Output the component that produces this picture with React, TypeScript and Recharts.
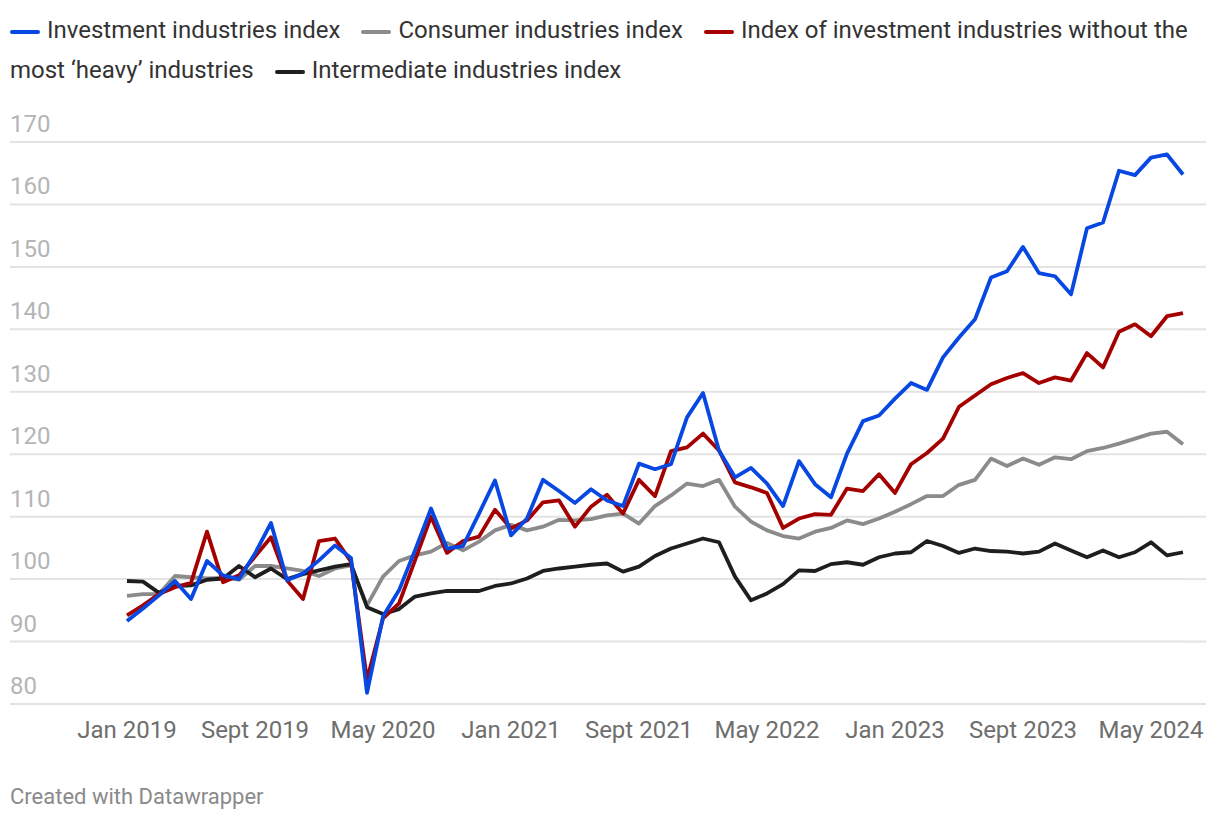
import { LineChart, Line, XAxis, YAxis, CartesianGrid } from 'recharts'

// Monthly, Jan 2019 – July 2024
const months = [
  'Jan 2019', 'Feb 2019', 'Mar 2019', 'Apr 2019', 'May 2019', 'June 2019', 'July 2019', 'Aug 2019', 'Sept 2019', 'Oct 2019', 'Nov 2019', 'Dec 2019',
  'Jan 2020', 'Feb 2020', 'Mar 2020', 'Apr 2020', 'May 2020', 'June 2020', 'July 2020', 'Aug 2020', 'Sept 2020', 'Oct 2020', 'Nov 2020', 'Dec 2020',
  'Jan 2021', 'Feb 2021', 'Mar 2021', 'Apr 2021', 'May 2021', 'June 2021', 'July 2021', 'Aug 2021', 'Sept 2021', 'Oct 2021', 'Nov 2021', 'Dec 2021',
  'Jan 2022', 'Feb 2022', 'Mar 2022', 'Apr 2022', 'May 2022', 'June 2022', 'July 2022', 'Aug 2022', 'Sept 2022', 'Oct 2022', 'Nov 2022', 'Dec 2022',
  'Jan 2023', 'Feb 2023', 'Mar 2023', 'Apr 2023', 'May 2023', 'June 2023', 'July 2023', 'Aug 2023', 'Sept 2023', 'Oct 2023', 'Nov 2023', 'Dec 2023',
  'Jan 2024', 'Feb 2024', 'Mar 2024', 'Apr 2024', 'May 2024', 'June 2024', 'July 2024',
]

const investment = [
  93.3, 95.3, 97.4, 99.7, 96.8, 102.9, 100.6, 100.0, 104.1, 109.0, 99.8, 100.9,
  103.0, 105.4, 103.4, 81.8, 94.0, 98.2, 104.6, 111.3, 104.9, 105.3, 110.5, 115.8,
  107.0, 109.7, 115.9, 114.1, 112.2, 114.4, 112.6, 111.7, 118.5, 117.6, 118.4, 125.9,
  129.8, 120.6, 116.3, 117.8, 115.3, 111.7, 118.9, 115.2, 113.1, 120.1, 125.3, 126.2,
  128.9, 131.4, 130.3, 135.5, 138.7, 141.6, 148.3, 149.3, 153.2, 149.0, 148.5, 145.6,
  156.2, 157.1, 165.4, 164.7, 167.5, 168.0, 164.8,
]

const consumer = [
  97.3, 97.6, 97.6, 100.5, 100.3, 100.1, 100.2, 99.9, 102.1, 102.1, 101.7, 101.3,
  100.5, 101.7, 102.2, 95.8, 100.4, 102.9, 103.8, 104.4, 105.8, 104.6, 106.0, 107.8,
  108.7, 107.8, 108.4, 109.5, 109.4, 109.6, 110.2, 110.5, 108.9, 111.7, 113.4, 115.3,
  114.9, 115.9, 111.6, 109.2, 107.8, 106.9, 106.5, 107.6, 108.2, 109.4, 108.8, 109.7,
  110.8, 112.0, 113.3, 113.3, 115.1, 115.9, 119.3, 118.1, 119.3, 118.3, 119.5, 119.2,
  120.5, 121.0, 121.7, 122.5, 123.3, 123.6, 121.6,
]

const investmentNoHeavy = [
  94.2, 95.8, 97.6, 98.7, 99.4, 107.6, 99.5, 100.6, 103.6, 106.7, 99.8, 96.8,
  106.1, 106.5, 102.8, 83.9, 93.7, 96.1, 103.0, 110.0, 104.2, 106.1, 106.8, 111.1,
  108.1, 109.4, 112.3, 112.6, 108.4, 111.6, 113.5, 110.5, 115.9, 113.3, 120.5, 121.1,
  123.3, 120.6, 115.5, 114.7, 113.8, 108.2, 109.7, 110.4, 110.3, 114.5, 114.1, 116.8,
  113.8, 118.4, 120.2, 122.5, 127.6, 129.4, 131.2, 132.2, 133.0, 131.4, 132.3, 131.8,
  136.2, 133.9, 139.6, 140.8, 138.9, 142.1, 142.6,
]

const intermediate = [
  99.7, 99.6, 97.8, 98.9, 99.0, 99.9, 100.1, 102.1, 100.3, 101.7, 100.0, 100.8,
  101.4, 102.0, 102.4, 95.5, 94.4, 95.2, 97.2, 97.7, 98.1, 98.1, 98.1, 98.9,
  99.3, 100.1, 101.3, 101.7, 102.0, 102.3, 102.5, 101.2, 102.0, 103.7, 104.9, 105.7,
  106.5, 105.9, 100.4, 96.6, 97.7, 99.2, 101.4, 101.3, 102.4, 102.7, 102.3, 103.5,
  104.1, 104.3, 106.1, 105.3, 104.2, 104.9, 104.5, 104.4, 104.1, 104.4, 105.7, 104.6,
  103.5, 104.6, 103.5, 104.3, 105.9, 103.8, 104.3,
]

const yTicks = [80, 90, 100, 110, 120, 130, 140, 150, 160, 170]

// legend order as in the original; drawOrder controls which line sits on top
const series = [
  { key: 'investment', name: 'Investment industries index', color: '#0747e2' },
  { key: 'consumer', name: 'Consumer industries index', color: '#8b8b8b' },
  { key: 'noHeavy', name: 'Index of investment industries without the most \u2018heavy\u2019 industries', color: '#a50000' },
  { key: 'intermediate', name: 'Intermediate industries index', color: '#1e1e1e' },
]
const drawOrder = ['consumer', 'intermediate', 'noHeavy', 'investment']

const data = months.map((month, i) => ({
  month,
  investment: investment[i],
  consumer: consumer[i],
  noHeavy: investmentNoHeavy[i],
  intermediate: intermediate[i],
}))

const CHART_W = 1220
const CHART_H = 680
const PLOT_LEFT = 127
const PLOT_RIGHT = 1183
const FONT = 'Roboto, "Noto Sans", sans-serif'

/**
 * Y tick: label sits above its gridline, gridline stretched to the page edges
 */
const YTick = ({ y, payload }: any) => (
  <g>
    <line x1={10} x2={PLOT_LEFT} y1={y} y2={y} stroke="#e3e3e3" strokeWidth={2} />
    <line x1={PLOT_RIGHT} x2={1206} y1={y} y2={y} stroke="#e3e3e3" strokeWidth={2} />
    <text x={10} y={y - 10} fill="#b5b5b5" fontSize={24} fontFamily={FONT}>
      {payload.value}
    </text>
  </g>
)

const XTick = ({ x, y, payload }: any) => (
  <text x={x} y={y + 26} fill="#6e6e6e" fontSize={24} fontFamily={FONT} textAnchor="middle">
    {payload.value}
  </text>
)

const LegendRow = () => (
  <div
    style={{
      position: 'absolute',
      left: 10,
      top: 10,
      width: 1196,
      fontSize: 24,
      lineHeight: '40px',
      color: '#333',
      fontFamily: FONT,
    }}
  >
    {series.map((s) => (
      <span key={s.key} style={{ marginRight: 21 }}>
        <span
          style={{
            display: 'inline-block',
            width: 30,
            height: 4,
            borderRadius: 2,
            background: s.color,
            verticalAlign: 'middle',
            marginRight: 7,
          }}
        />
        {s.name}
      </span>
    ))}
  </div>
)

export default function App() {
  return (
    <div style={{ position: 'absolute', left: 0, top: 0, width: 1220, height: 820, background: '#fff' }}>
      <LegendRow />
      <div style={{ position: 'absolute', left: 0, top: 100 }}>
        <LineChart
          width={CHART_W}
          height={CHART_H}
          data={data}
          margin={{ top: 42, right: CHART_W - PLOT_RIGHT, left: 10, bottom: 26 }}
        >
          <CartesianGrid vertical={false} stroke="#e3e3e3" strokeWidth={2} />
          <XAxis
            dataKey="month"
            interval={7}
            axisLine={false}
            tickLine={false}
            height={50}
            tick={<XTick />}
          />
          <YAxis
            domain={[80, 170]}
            ticks={yTicks}
            width={PLOT_LEFT - 10}
            axisLine={false}
            tickLine={false}
            tick={<YTick />}
          />
          {drawOrder.map((key) => {
            const s = series.find((d) => d.key === key)!
            return (
              <Line
                key={key}
                type="linear"
                dataKey={key}
                name={s.name}
                stroke={s.color}
                strokeWidth={3.8}
                strokeLinejoin="round"
                dot={false}
                isAnimationActive={false}
              />
            )
          })}
        </LineChart>
      </div>
      <div
        style={{
          position: 'absolute',
          left: 10,
          top: 784,
          fontSize: 22,
          color: '#8a8a8a',
          fontFamily: FONT,
        }}
      >
        Created with Datawrapper
      </div>
    </div>
  )
}
